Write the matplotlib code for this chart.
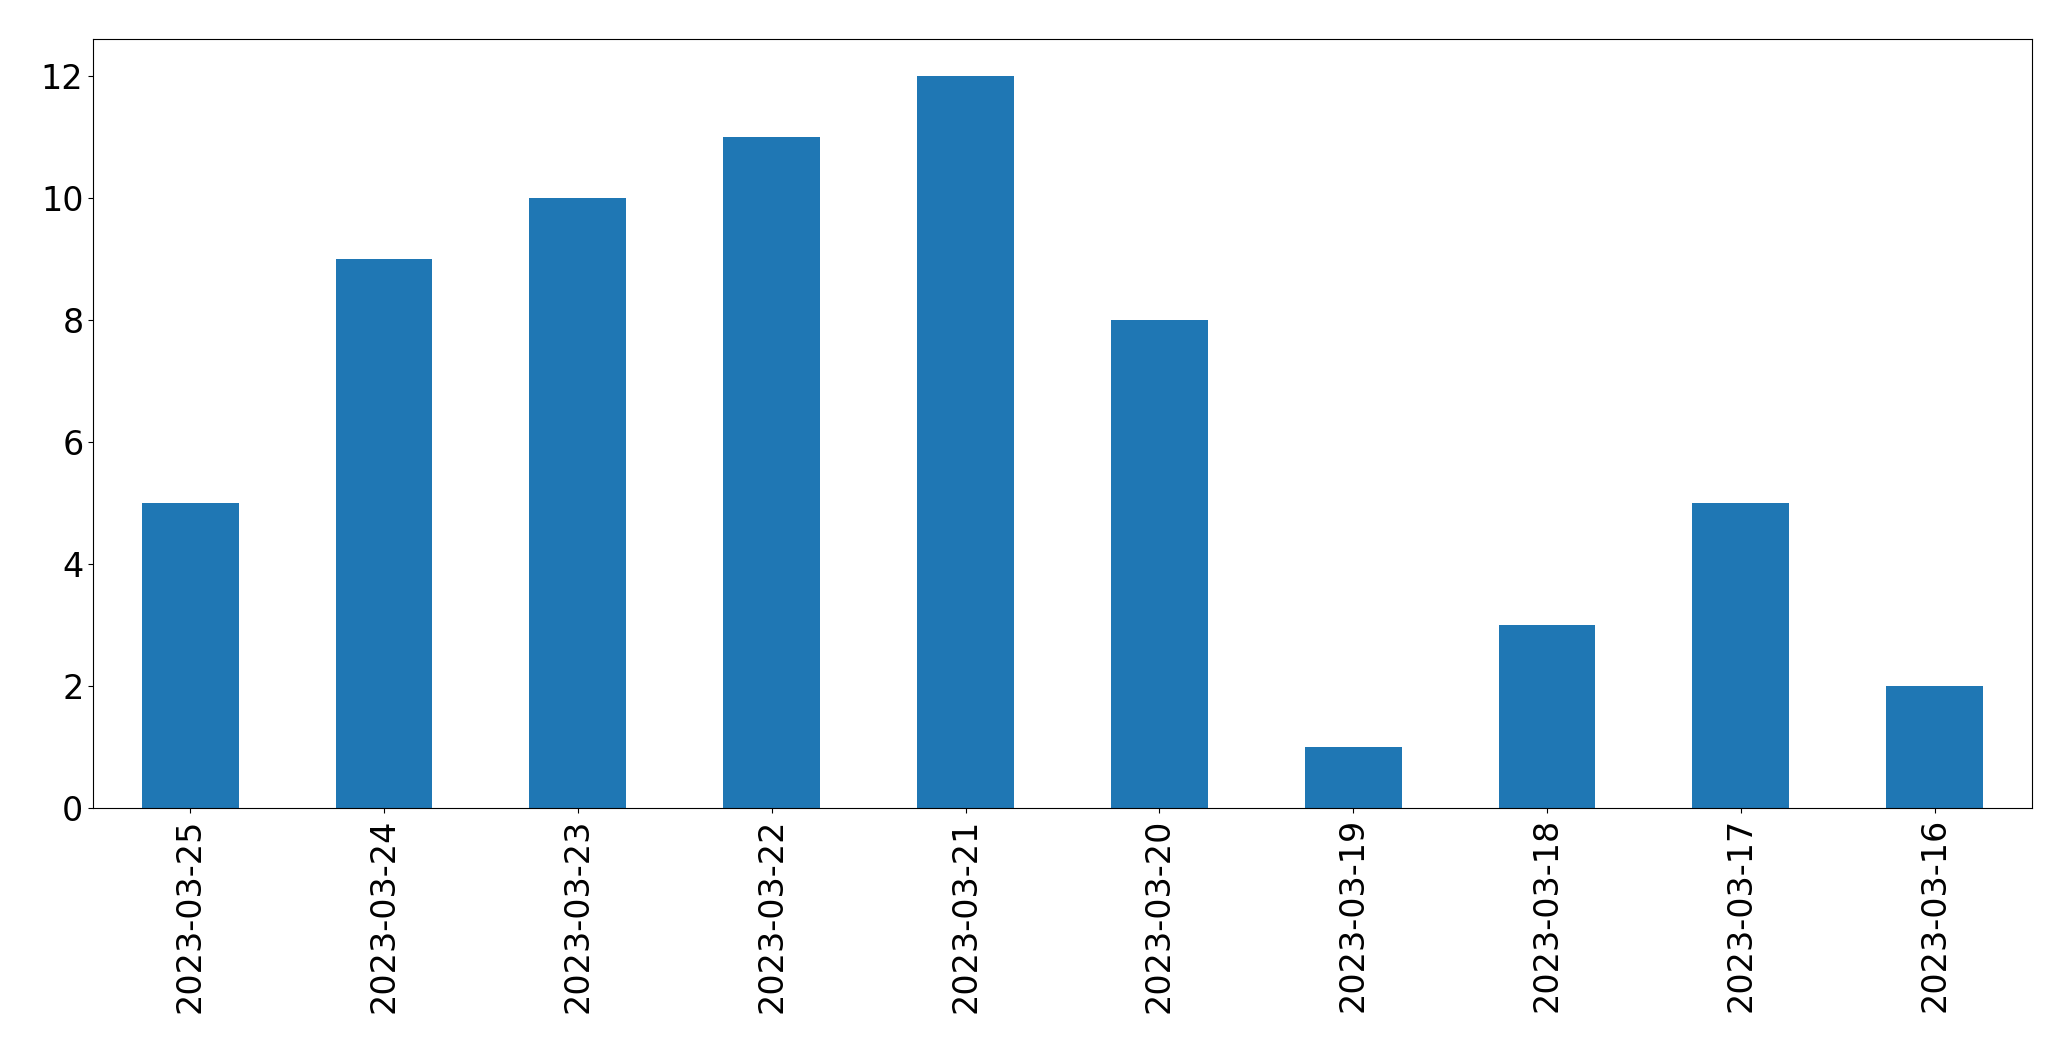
import matplotlib
matplotlib.use("Agg")
import matplotlib.pyplot as plt

dates = ["2023-03-25", "2023-03-24", "2023-03-23", "2023-03-22", "2023-03-21",
         "2023-03-20", "2023-03-19", "2023-03-18", "2023-03-17", "2023-03-16"]
counts = [5, 9, 10, 11, 12, 8, 1, 3, 5, 2]

fig = plt.figure(figsize=(20.71, 10.61), dpi=100)
ax = fig.add_axes([0.045, 0.238, 0.936, 0.725])
x = range(len(dates))
ax.bar(x, counts, width=0.5, color="#1f77b4")
ax.set_xticks(list(x))
ax.set_xticklabels(dates, rotation=90)
ax.set_xlim(-0.5, len(dates) - 0.5)
ax.set_ylim(0, 12.6)
ax.tick_params(labelsize=24)
fig.savefig("out.png", dpi=100)
